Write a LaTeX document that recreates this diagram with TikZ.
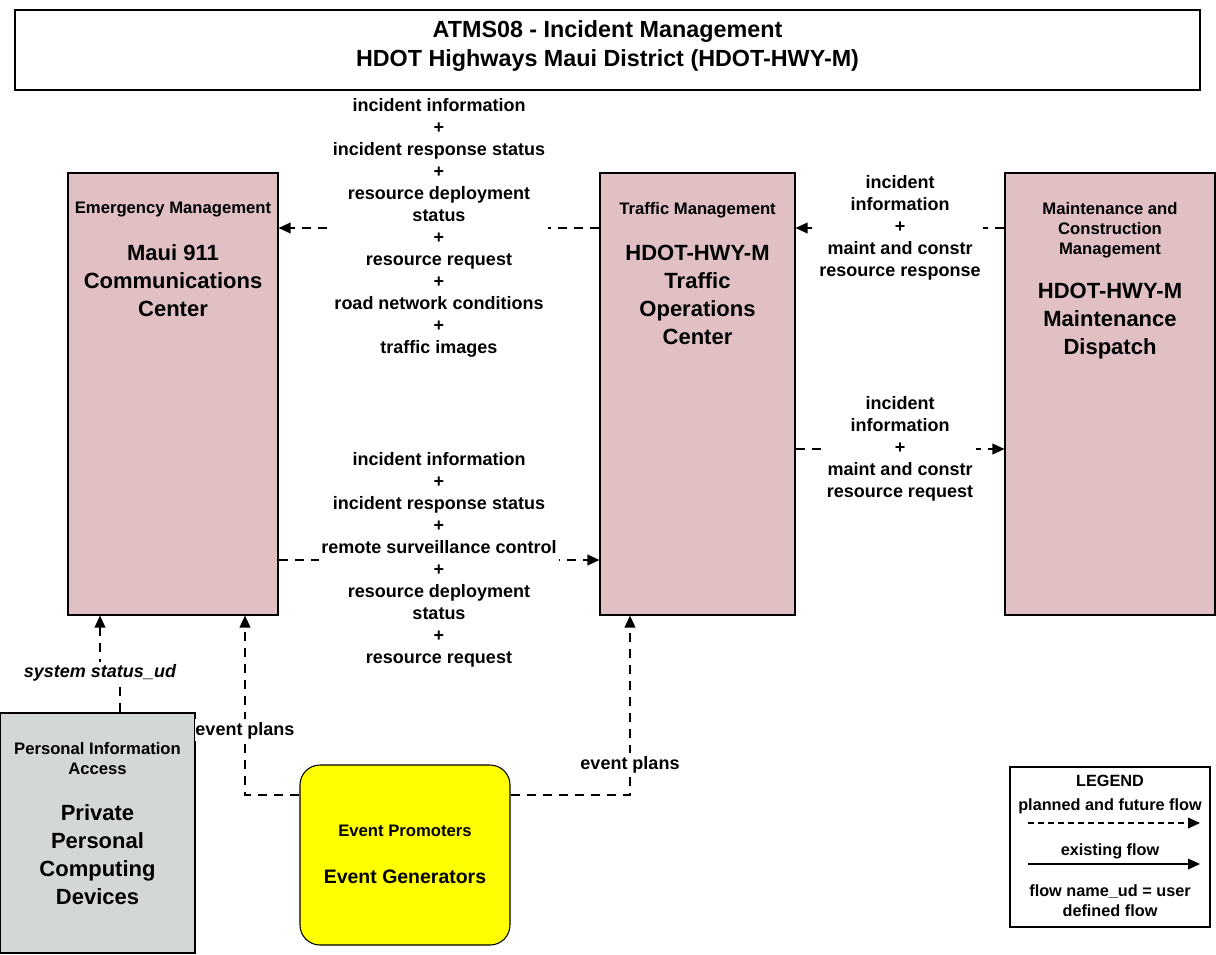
\documentclass[tikz,border=0pt]{standalone}
\usepackage{fontspec}
\setmainfont{Liberation Sans}
\usetikzlibrary{arrows.meta, positioning}

\definecolor{centerpink}{RGB}{224,192,194}
\definecolor{devicegray}{RGB}{211,215,216}
\definecolor{promoteryellow}{RGB}{255,255,0}

\tikzset{
  elem/.style={draw=black, line width=0.8pt, inner sep=0pt},
  flow/.style={line width=1.2pt, dash pattern=on 7pt off 5pt, -{Triangle[length=9pt,width=8pt]}},
  flowlbl/.style={fill=white, inner sep=2pt, align=center, font=\fontsize{13.5}{16.5}\selectfont\bfseries},
  classlbl/.style={align=center, font=\fontsize{12.5}{15}\selectfont\bfseries},
  namelbl/.style={align=center, font=\fontsize{16.5}{21}\selectfont\bfseries},
  legendlbl/.style={align=center, font=\fontsize{12.2}{15}\selectfont\bfseries},
}

\begin{document}
\begin{tikzpicture}[x=0.75pt, y=-0.75pt]
\useasboundingbox (0,0) rectangle (1216,954);

% title
\node[elem, fill=white, minimum width=888.75pt, minimum height=60pt] (title) at (607.5,50) {};
\node[align=center, font=\fontsize{17.5}{21.75}\selectfont\bfseries] (titletext) at (607.5,46)
  {ATMS08 - Incident Management\\HDOT Highways Maui District (HDOT-HWY-M)};

% centers
\node[elem, fill=centerpink, minimum width=157.5pt, minimum height=331.5pt] (em) at (173,394) {};
\node[classlbl] (emclass) at (173,210) {Emergency Management};
\node[namelbl] (emname) at (173,281) {Maui 911\\Communications\\Center};

\node[elem, fill=centerpink, minimum width=146.25pt, minimum height=331.5pt] (tm) at (697.5,394) {};
\node[classlbl] (tmclass) at (697.5,210) {Traffic Management};
\node[namelbl] (tmname) at (697.5,295) {HDOT-HWY-M\\Traffic\\Operations\\Center};

\node[elem, fill=centerpink, minimum width=157.5pt, minimum height=331.5pt] (md) at (1110,394) {};
\node[classlbl] (mdclass) at (1110,230) {Maintenance and\\Construction\\Management};
\node[namelbl] (mdname) at (1110,321) {HDOT-HWY-M\\Maintenance\\Dispatch};

% terminators
\node[elem, fill=devicegray, minimum width=146.25pt, minimum height=180pt] (pia) at (97.5,833) {};
\node[classlbl] (piaclass) at (97.5,759) {Personal Information\\Access};
\node[namelbl] (pianame) at (97.5,855) {Private\\Personal\\Computing\\Devices};

\node[elem, fill=promoteryellow, rounded corners=15pt, minimum width=157.5pt, minimum height=135pt] (eg) at (405,855) {};
\node[classlbl] (egclass) at (405,831) {Event Promoters};
\node[namelbl, font=\fontsize{14.6}{18}\selectfont\bfseries] (egname) at (405,877) {Event Generators};

% flows
\coordinate (upper) at (0,228);
\coordinate (lower) at (0,560);
\coordinate (mdlow) at (0,449);
\coordinate (pialeg) at (120,673);
\coordinate (emleg) at (100,673);
\coordinate (egleft) at (245,795);
\coordinate (egright) at (630,795);

\draw[flow] (tm.west |- upper) -- node[flowlbl] {incident information\\+\\incident response status\\+\\resource deployment\\status\\+\\resource request\\+\\road network conditions\\+\\traffic images} (em.east |- upper);
\draw[flow] (em.east |- lower) -- node[flowlbl] {incident information\\+\\incident response status\\+\\remote surveillance control\\+\\resource deployment\\status\\+\\resource request} (tm.west |- lower);
\draw[flow] (md.west |- upper) -- node[flowlbl] {incident\\information\\+\\maint and constr\\resource response} (tm.east |- upper);
\draw[flow] (tm.east |- mdlow) -- node[flowlbl] {incident\\information\\+\\maint and constr\\resource request} (md.west |- mdlow);

\draw[flow] (pia.north -| pialeg) -- (pialeg) -- (emleg) -- (em.south -| emleg);
\node[flowlbl, font=\fontsize{13.5}{16.5}\selectfont\bfseries\itshape] (sslbl) at (100,673) {system status\_ud};

\draw[flow] (eg.west |- egleft) -- (egleft) -- node[flowlbl, inner xsep=0pt, pos=0.36] {event plans} (em.south -| egleft);
\draw[flow] (eg.east |- egright) -- (egright) -- node[flowlbl, pos=0.17] {event plans} (tm.south -| egright);

% legend
\node[elem, fill=white, minimum width=150pt, minimum height=120pt] (legend) at (1110,847) {};
\node[legendlbl] (legtitle) at (1110,781) {LEGEND};
\node[legendlbl] (legplanned) at (1110,806) {planned and future flow};
\coordinate (pstart) at (1028,823);
\coordinate (pend) at (1200,823);
\draw[line width=1.2pt, dash pattern=on 4.5pt off 3pt, -{Triangle[length=9pt,width=8pt]}] (pstart) -- (pend);
\node[legendlbl] (legexist) at (1110,851) {existing flow};
\coordinate (estart) at (1028,864);
\coordinate (eend) at (1200,864);
\draw[line width=1.2pt, -{Triangle[length=9pt,width=8pt]}] (estart) -- (eend);
\node[legendlbl] (legud) at (1110,901) {flow name\_ud = user\\defined flow};
\end{tikzpicture}
\end{document}
